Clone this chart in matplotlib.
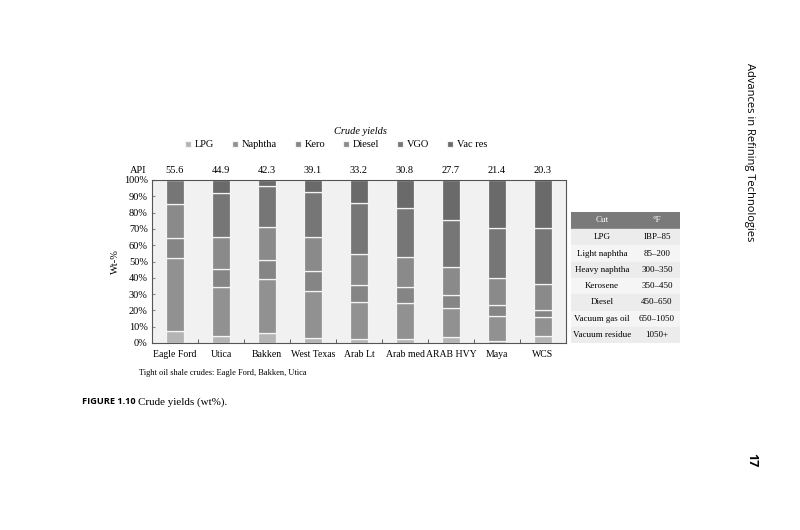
import numpy as np
import matplotlib
matplotlib.use("Agg")
import matplotlib.pyplot as plt

crudes = ['Eagle Ford', 'Utica', 'Bakken', 'West Texas', 'Arab Lt',
          'Arab med', 'ARAB HVY', 'Maya', 'WCS']
api = ['55.6', '44.9', '42.3', '39.1', '33.2', '30.8', '27.7', '21.4', '20.3']

# yields in wt-%
lpg = [7.6, 4.1, 6.1, 3.1, 2.4, 2.5, 3.5, 1.2, 4.6]
naphtha = [44.8, 30.0, 33.1, 28.9, 22.5, 22.2, 17.9, 15.1, 11.3]
kero = [11.9, 11.0, 11.6, 12.3, 10.4, 9.4, 8.2, 7.2, 4.5]
diesel = [21.0, 19.8, 20.4, 20.6, 19.4, 18.8, 16.9, 16.6, 15.9]
vgo = [14.7, 26.9, 24.9, 27.5, 31.4, 29.7, 29.0, 30.3, 34.5]
vac_res = [0.0, 8.2, 3.9, 7.6, 13.9, 17.4, 24.5, 29.6, 29.2]

series = {'LPG': lpg, 'Naphtha': naphtha, 'Kero': kero,
          'Diesel': diesel, 'VGO': vgo, 'Vac res': vac_res}
colors = ['#b4b4b4', '#919191', '#858585', '#8a8a8a', '#767676', '#6a6a6a']

cut_names = ['LPG', 'Light naphtha', 'Heavy naphtha', 'Kerosene', 'Diesel',
             'Vacuum gas oil', 'Vacuum residue']
cut_temps = ['IBP\u201385', '85\u2013200', '300\u2013350', '350\u2013450',
             '450\u2013650', '650\u20131050', '1050+']

plt.rcParams['font.family'] = ['Liberation Serif', 'DejaVu Serif']

fig = plt.figure(figsize=(8, 5.3), dpi=100)
W, H = 800, 530
ax = fig.add_axes([152 / W, 1 - 343 / H, 414 / W, 163 / H])
ax.set_facecolor('#f1f1f1')

x = np.arange(len(crudes))
bottom = np.zeros(len(crudes))
for (name, vals), c in zip(series.items(), colors):
    ax.bar(x, vals, 0.4, bottom=bottom, color=c, edgecolor='#f4f4f4',
           linewidth=0.9, label=name)
    bottom += np.array(vals)

ax.set_xlim(-0.5, len(crudes) - 0.5)
ax.set_ylim(0, 100)
ax.set_yticks(np.arange(0, 101, 10))
ax.set_yticklabels([f'{v}%' for v in range(0, 101, 10)], fontsize=7.5)
ax.set_xticks(x)
ax.set_xticklabels(crudes, fontsize=7.0)
ax.tick_params(axis='x', length=0, pad=5)
ax.set_xticks(x[:-1] + 0.5, minor=True)
ax.tick_params(axis='x', which='minor', direction='in', length=3, color='#444444')
ax.tick_params(axis='y', direction='in', length=2, color='#888888', pad=3)
for s in ax.spines.values():
    s.set_color('#555555')
    s.set_linewidth(0.8)
ax.set_ylabel('Wt-%', fontsize=7.5, labelpad=3)

# API gravities above the bars
for xi, a in zip(x, api):
    ax.text(xi, 106, a, ha='center', va='center', fontsize=7.5,
            transform=ax.transData, clip_on=False)
ax.text(-0.62, 106, 'API', ha='right', va='center', fontsize=7.5, clip_on=False)

leg = ax.legend(loc='center', ncol=6, frameon=False, fontsize=7.5,
                handlelength=0.6, handleheight=0.6,
                columnspacing=1.7, handletextpad=0.35,
                bbox_to_anchor=((336 - 152) / 414, (343 - 145) / 163))
fig.text(360 / W, 1 - 131 / H, 'Crude yields', ha='center', va='center',
         fontsize=7.5, style='italic')

fig.text(139 / W, 1 - 373 / H, 'Tight oil shale crudes: Eagle Ford, Bakken, Utica',
         fontsize=6.0, va='center')
fig.text(82 / W, 1 - 402 / H, 'FIGURE 1.10', fontsize=6.6, va='center',
         fontweight='bold', family=['Open Sans', 'DejaVu Sans'])
fig.text(138 / W, 1 - 402 / H, 'Crude yields (wt%).', fontsize=7.9, va='center')

# cut temperature table
tab = fig.add_axes([571 / W, 1 - 343 / H, 109 / W, 131 / H])
tab.set_xlim(0, 109)
tab.set_ylim(131, 0)
tab.axis('off')
row_h = 16.5
hdr_h = 16
tab.add_patch(plt.Rectangle((0, 0), 62, hdr_h, color='#7a7a7a'))
tab.add_patch(plt.Rectangle((63, 0), 46, hdr_h, color='#7a7a7a'))
tab.text(31, hdr_h / 2, 'Cut', ha='center', va='center', fontsize=6.5, color='white')
tab.text(86, hdr_h / 2, '\u00b0F', ha='center', va='center', fontsize=6.5, color='white')
for i, (n, t) in enumerate(zip(cut_names, cut_temps)):
    y0 = hdr_h + 1 + i * (row_h - 0.2)
    fc = '#ececec' if i % 2 == 0 else '#f5f5f5'
    tab.add_patch(plt.Rectangle((0, y0), 62, row_h - 1, color=fc))
    tab.add_patch(plt.Rectangle((63, y0), 46, row_h - 1, color=fc))
    tab.text(31, y0 + row_h / 2, n, ha='center', va='center', fontsize=6.5)
    tab.text(86, y0 + row_h / 2, t, ha='center', va='center', fontsize=6.5)

# running head and page number
fig.text(750 / W, 1 - 152 / H, 'Advances in Refining Technologies', rotation=-90,
         ha='center', va='center', fontsize=8, family=['Open Sans', 'DejaVu Sans'])
fig.text(752 / W, 1 - 460 / H, '17', rotation=-90, ha='center', va='center',
         fontsize=9, fontweight='bold', family=['Open Sans', 'DejaVu Sans'])

fig.savefig('out.png', dpi=100)
